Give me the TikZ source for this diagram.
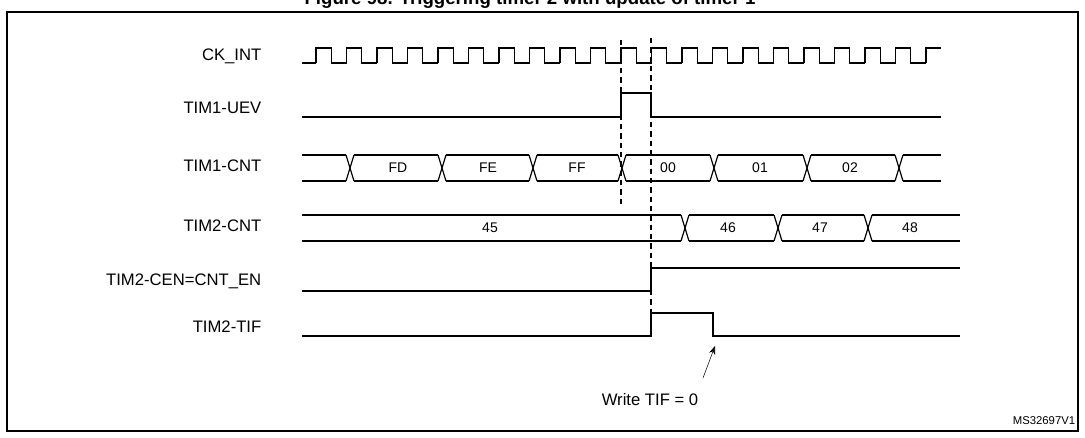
\documentclass[tikz,border=0pt]{standalone}
\usepackage{fontspec}
\setmainfont{Liberation Sans}
\usetikzlibrary{arrows.meta, positioning}

\begin{document}
\begin{tikzpicture}[
    x=0.75pt, y=-0.75pt,
    every node/.style={font=\small},
    sig/.style={line width=0.9pt},
    lbl/.style={anchor=east, font=\fontsize{12.5}{14}\selectfont},
    val/.style={font=\fontsize{10.5}{12}\selectfont},
    guide/.style={dashed, line width=0.9pt, dash pattern=on 4pt off 3pt},
    arrow/.style={-{Stealth[length=2.2mm]}, thin}
]
\useasboundingbox (0,0) rectangle (1085,437);
\clip (0,0) rectangle (1085,437);

% --- frame and (cut) caption ---
\node[font=\bfseries\fontsize{14}{16}\selectfont, anchor=base] (title) at (530,4) {Figure 98. Triggering timer 2 with update of timer 1};
\draw[line width=1.6pt] (7,12) rectangle (1078,431);

% --- signal names ---
\node[lbl] (ck) at (266,56) {CK\_INT};
\node[lbl] (uev) at (266,108) {TIM1-UEV};
\node[lbl] (cnt1) at (266,166) {TIM1-CNT};
\node[lbl] (cnt2) at (266,226) {TIM2-CNT};
\node[lbl] (cen) at (266,281) {TIM2-CEN=CNT\_EN};
\node[lbl] (tif) at (266,327) {TIM2-TIF};

% --- CK_INT ---
\draw[sig] (302,63) -- (316,63);
\foreach \k in {0,...,19}{
  \pgfmathsetmacro{\xa}{316+30.5*\k}
  \draw[sig] (\xa,63) -- (\xa,48) -- ++(15.25,0) -- ++(0,15) -- ++(15.25,0);
}
\draw[sig] (926,63) -- (926,48) -- (941,48);

% --- TIM1-UEV ---
\draw[sig] (302,117) -- (621,117) -- (621,93) -- (651,93) -- (651,117) -- (941,117);

% --- TIM1-CNT ---
\foreach \a/\b in {302/350,350/442,442/533,533/622,622/714,714/807,807/899,899/941}{
  \draw[sig] ({\a==302 ? 302 : \a+4},155) -- ({\b==941 ? 941 : \b-4},155);
  \draw[sig] ({\a==302 ? 302 : \a+4},181) -- ({\b==941 ? 941 : \b-4},181);
}
\foreach \c in {350,442,533,622,714,807,899}{
  \draw[sig] (\c-4,155) -- (\c+4,181);
  \draw[sig] (\c-4,181) -- (\c+4,155);
}
\node[val] (fd) at (398,168) {FD};
\node[val] (fe) at (488,168) {FE};
\node[val] (ff) at (577,168) {FF};
\node[val] (c00) at (668,168) {00};
\node[val] (c01) at (760,168) {01};
\node[val] (c02) at (850,168) {02};

% --- TIM2-CNT ---
\foreach \a/\b in {302/685,685/778,778/868,868/960}{
  \draw[sig] ({\a==302 ? 302 : \a+4},215) -- ({\b==960 ? 960 : \b-4},215);
  \draw[sig] ({\a==302 ? 302 : \a+4},241) -- ({\b==960 ? 960 : \b-4},241);
}
\foreach \c in {685,778,868}{
  \draw[sig] (\c-4,215) -- (\c+4,241);
  \draw[sig] (\c-4,241) -- (\c+4,215);
}
\node[val] (v45) at (490,228) {45};
\node[val] (v46) at (728,228) {46};
\node[val] (v47) at (820,228) {47};
\node[val] (v48) at (910,228) {48};

% --- TIM2-CEN ---
\draw[sig] (302,291) -- (651,291) -- (651,268) -- (960,268);

% --- TIM2-TIF ---
\draw[sig] (302,336) -- (651,336) -- (651,313) -- (713,313) -- (713,336) -- (960,336);

% --- guides ---
\draw[guide] (621,40) -- (621,205);
\draw[guide] (651,38) -- (651,313);

% --- note ---
\node[font=\fontsize{12.5}{14}\selectfont] (wr) at (650,400) {Write TIF = 0};
\coordinate (clr) at (715,346);
\draw[arrow] (703,378) -- (clr);
\node[font=\fontsize{8.5}{10}\selectfont] (ms) at (1044,421) {MS32697V1};
\end{tikzpicture}
\end{document}
